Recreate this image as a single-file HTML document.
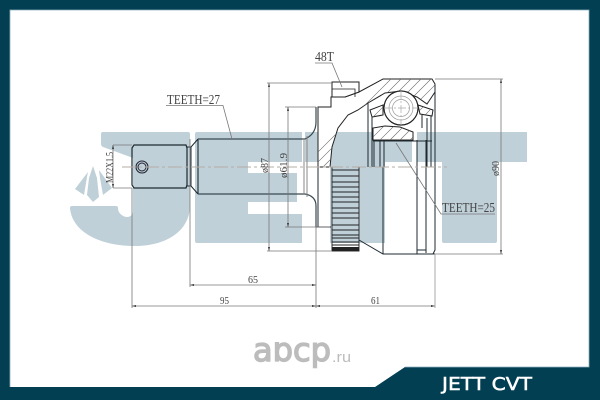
<!DOCTYPE html>
<html><head><meta charset="utf-8"><style>html,body{margin:0;padding:0;background:#fff}svg{display:block}</style></head>
<body>
<svg width="600" height="400" viewBox="0 0 600 400" xmlns="http://www.w3.org/2000/svg">
<rect width="600" height="400" fill="#fff"/>
<!-- watermark -->
<g fill="#bfd0d8">
<path d="M103 132H188Q190 132 190 134V205C190 232 165 246 135 246C100 246 72 232 70 208Q70 206 72 206H116Q118 206 118 208C118 214 124 217 127 217C131 217 133 214 133 211V158L103 147Q101 146 101 144V134Q101 132 103 132Z"/>
<path d="M197 132H302V162H248V173H297V202H248V214H302V243H197Q195 243 195 241V134Q195 132 197 132Z"/>
<path d="M305 132H412V162H385V243H330V162H305Z"/>
<path d="M417 132H527V162H497V241Q497 243 495 243H444Q442 243 442 241V162H417Z"/>
<path d="M88 172L75 189L84 195L87 177ZM93 166L89 178L87 195L93 202L99 197L97 178ZM99 170L112 188L103 195L100 178Z"/>
</g>
<!-- section fill -->
<g stroke="#222" stroke-width="1">
<path d="M318 107H331V97H345L359 92L383 79H432L435 84V92L427 104L417 97L401 91L385 93L368 103L358 110L348 115L338 128L332 147L330 167H318Z" fill="#fff"/>
<path d="M332 82H359V92L345 97H332Z" fill="#fff"/>
<path d="M373 140V128L385 126L400 127L413 132V140Z" fill="#fff"/>
<path d="M370 110L383 105V115L372 117Z" fill="#fff"/>
<path d="M418 105L433 110L432 116L420 114Z" fill="#fff"/>
</g>
<clipPath id="h"><path d="M318 107H331V97H345L359 92L383 79H432L435 84V92L427 104L417 97L401 91L385 93L368 103L358 110L348 115L338 128L332 147L330 167H318ZM332 89H355V97H332ZM373 140V128L385 126L400 127L413 132V140ZM370 110L383 105V115L372 117ZM418 105L433 110L432 116L420 114Z"/></clipPath>
<g clip-path="url(#h)" stroke="#666" stroke-width=".6">
<path d="M300 170L400 70M310 170L410 70M320 170L420 70M330 170L430 70M340 170L440 70M350 170L450 70M360 170L460 70M370 170L470 70M380 170L480 70M390 170L490 70M400 170L500 70M410 170L510 70"/>
</g>
<path d="M332 89H355V97" fill="none" stroke="#222" stroke-width=".8"/>
<!-- ball -->
<circle cx="401" cy="108" r="17" fill="#fff" stroke="#222" stroke-width="1.2"/>
<circle cx="401" cy="108" r="12" fill="none" stroke="#999" stroke-width=".7"/>
<circle cx="401" cy="108" r="8.5" fill="none" stroke="#999" stroke-width=".7"/>
<path d="M401 91V125M384 108H418" stroke="#aaa" stroke-width=".7" stroke-dasharray="8 2 2 2"/>
<!-- mechanical outline -->
<g fill="none" stroke="#1d2a30" stroke-width="1">
<path d="M132 148L134 145H186L187 148V185L186 188H134L132 185Z" stroke-width="1.2"/>
<path d="M187 147H191V186H187M191 147L198 139M191 186L198 194"/>
<path d="M198 139V194" stroke-width="1.1"/>
<path d="M198 139H305Q316 134 316 122V107M198 194H305Q316 196 316 206V227" stroke="#3a4a52" stroke-width="1.2"/>
<path d="M304 139V194M307 136V197" stroke="#888"/>
<path d="M318 167V227H331M316 227H318"/>
<path d="M332 167V251H359V167" stroke="#333"/>
<path d="M359 240L383 254H435M383 167V254M417 140V254M426 140V253M435 84V250L433 254M417 254V250H426"/>
<path d="M368 103V167M372 117V167M374 140V167M380 140V167M384 140V167M427 118V167M431 116V167M373 141H432M422 115V128"/>
</g>
<g stroke="#222" stroke-width=".9">
<path d="M332 170H359M332 176H359M332 182H359M332 187H359M332 192H359M332 197H359M332 202H359M332 208H359M332 213H359M332 218H359M332 225H359M332 230H359M332 235H359M332 238H359M332 242H359M332 245H359"/>
</g>
<rect x="332" y="247" width="27" height="4" fill="#222"/>
<!-- hole -->
<circle cx="142" cy="167" r="6" fill="none" stroke="#223" stroke-width="1.1"/>
<circle cx="142" cy="167" r="4" fill="none" stroke="#223" stroke-width="1"/>
<!-- centre line -->
<path d="M122 167H447" stroke="#b5aca6" stroke-width="1" stroke-dasharray="14 3 3 3"/>
<!-- dimensions -->
<g fill="none" stroke="#777" stroke-width=".8">
<path d="M267 83H332M269 83V251M267 251H332"/>
<path d="M285 107H316M288 107V227M285 227H330"/>
<path d="M113 145H132M113 145V188M113 188H132"/>
<path d="M435 79H503M501 79V254M435 254H503"/>
<path d="M190 139V287M190 285H316M132 188V308M132 306H435M316 227V308"/>
<path d="M435 254V308" stroke="#aaa" stroke-width="1"/>
<path d="M166 105.500H223L232 139M315 63H332L342 87M396 143L441 214H495"/>
</g>
<g fill="#333">
<path d="M269 83l-1 4h2zM269 251l-1-4h2zM288 107l-1 4h2zM288 227l-1-4h2zM113 145l-1 4h2zM113 188l-1-4h2zM501 79l-1 4h2zM501 254l-1-4h2zM190 285l4-1v2zM316 285l-4-1v2zM132 306l4-1v2zM316 306l-4-1v2zM316 306l4-1v2zM435 306l-4-1v2z"/>
</g>
<!-- labels -->
<g font-family="'Liberation Serif',serif" fill="#444" font-size="14">
<text x="167" y="104" textLength="53" lengthAdjust="spacingAndGlyphs">TEETH=27</text>
<text x="315" y="61" textLength="19" lengthAdjust="spacingAndGlyphs">48T</text>
<text x="442" y="212" textLength="53" lengthAdjust="spacingAndGlyphs">TEETH=25</text>
<g font-size="11">
<text x="248" y="283" textLength="10" lengthAdjust="spacingAndGlyphs">65</text>
<text x="220" y="304" textLength="9" lengthAdjust="spacingAndGlyphs">95</text>
<text x="371" y="304" textLength="9" lengthAdjust="spacingAndGlyphs">61</text>
<text transform="translate(268 173) rotate(-90)" textLength="15" lengthAdjust="spacingAndGlyphs">ø87</text>
<text transform="translate(287 178) rotate(-90)" textLength="25" lengthAdjust="spacingAndGlyphs">ø61.9</text>
<text transform="translate(499 176) rotate(-90)" textLength="15" lengthAdjust="spacingAndGlyphs">ø90</text>
<text transform="translate(113 183) rotate(-90)" textLength="31" lengthAdjust="spacingAndGlyphs">M22X1.5</text>
</g>
</g>
<!-- frame -->
<path fill-rule="evenodd" d="M0 0H600V400H0ZM10 10V387H375L405 367H589V10Z" fill="#033f52"/>
<path d="M10 387V10H589V367H405" fill="none" stroke="#8fb0bd" stroke-width=".8"/>
<!-- branding -->
<clipPath id="lg"><rect x="245" y="342" width="100" height="30"/></clipPath>
<text clip-path="url(#lg)" x="253" y="361" font-family="'DejaVu Sans',sans-serif" font-size="32" fill="#bcbcbc" stroke="#bcbcbc" stroke-width="1.4" textLength="78" lengthAdjust="spacingAndGlyphs">abcp</text>
<text x="332" y="362" font-family="'Liberation Sans',sans-serif" font-size="15" fill="#bcbcbc" textLength="19" lengthAdjust="spacingAndGlyphs">.ru</text>
<text x="442" y="390" font-family="'DejaVu Sans',sans-serif" font-size="18" fill="#fff" stroke="#fff" stroke-width=".5" textLength="90" lengthAdjust="spacingAndGlyphs">JETT CVT</text>
</svg>
</body></html>
